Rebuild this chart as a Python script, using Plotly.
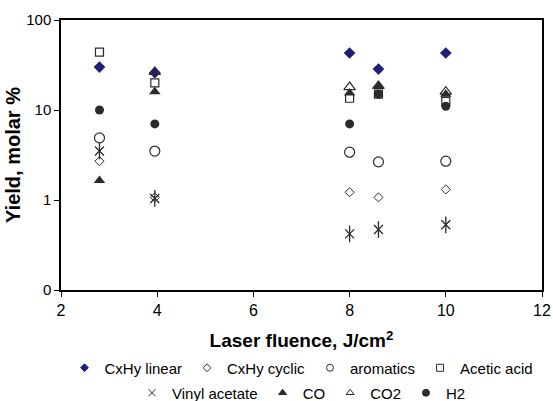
import plotly.graph_objects as go

# ---- data ----
fluence = [2.8, 3.95, 8, 8.6, 10]
cxhy_linear = [30, 26, 43, 28.5, 43]
cxhy_cyclic = [2.7, 1.07, 1.22, 1.07, 1.31]
aromatics = [4.9, 3.5, 3.4, 2.65, 2.7]
acetic_acid = [44, 20, 13.5, 15, 12.5]
vinyl_acetate = [3.5, 1.04, 0.42, 0.47, 0.53]
co = [1.65, 16, 15.4, 18.5, 15]
co2 = [None, 26.5, 18, 18.5, 16]
h2 = [10, 7, 7, 15, 11]

y_tickvals = [0.1, 1, 10, 100]
y_ticktext = ["0", "1", "10", "100"]
x_tickvals = [2, 4, 6, 8, 10, 12]

FONT = "Arial, 'Liberation Sans', sans-serif"
DARK = "#2b2b2b"
NAVY = "#1f1f78"

fig = go.Figure()

def add(name, ys, symbol, size, color, lw, legend, lsize, legend_entry=True):
    # data trace
    fig.add_trace(go.Scatter(
        x=fluence, y=ys, mode="markers", name=name, showlegend=False,
        legendgroup=name,
        marker=dict(symbol=symbol, size=size, color=color,
                    line=dict(color=color, width=lw)),
    ))
    if legend_entry:
        # legend-only entry with the smaller legend symbol
        fig.add_trace(go.Scatter(
            x=[None], y=[None], mode="markers", name=name, legend=legend,
            legendgroup=name,
            marker=dict(symbol=symbol, size=lsize, color=color,
                        line=dict(color=color, width=1)),
        ))

add("CxHy linear", cxhy_linear, "diamond", 9, NAVY, 0, "legend", 6)
add("CxHy cyclic", cxhy_cyclic, "diamond-open", 7, DARK, 1, "legend", 6)
add("aromatics", aromatics, "circle-open", 10, DARK, 1.2, "legend", 7)
add("Acetic acid", acetic_acid, "square-open", 8, DARK, 1.2, "legend", 7)
add("Vinyl acetate", vinyl_acetate, "x-thin-open", 9, DARK, 1.3, "legend2", 7)
add("Vinyl acetate", vinyl_acetate, "line-ns-open", 12, DARK, 1.3, "legend2", 7, legend_entry=False)
add("CO", co, "triangle-up", 10, DARK, 0, "legend2", 7)
add("CO2", co2, "triangle-up-open", 10, DARK, 1.2, "legend2", 7)
add("H2", h2, "circle", 9, DARK, 0, "legend2", 7)

fig.update_layout(
    width=553, height=401,
    margin=dict(l=61, r=11, t=20, b=111),
    paper_bgcolor="white", plot_bgcolor="white",
    font=dict(family=FONT, size=15, color="black"),
    xaxis=dict(
        range=[2, 12], tickvals=x_tickvals, showgrid=False, zeroline=False,
        showline=True, linecolor="black", linewidth=1.5, mirror=True,
        ticks="outside", ticklen=5, tickcolor="black", tickwidth=1.2,
        tickfont=dict(size=16), automargin=False,
        title=dict(text="<b>Laser fluence, J/cm<sup>2</sup></b>",
                   font=dict(size=19), standoff=18),
    ),
    yaxis=dict(
        type="log", range=[-1, 2], tickvals=y_tickvals, ticktext=y_ticktext,
        showgrid=False, zeroline=False,
        showline=True, linecolor="black", linewidth=1.5, mirror=True,
        ticks="outside", ticklen=5, tickcolor="black", tickwidth=1.2,
        tickfont=dict(size=15), automargin=False,
        title=dict(text="<b>Yield, molar %</b>", font=dict(size=20), standoff=0),
    ),
    legend=dict(orientation="h", x=0.5, xanchor="center",
                yref="container", y=1 - 368 / 401, yanchor="middle",
                font=dict(size=15), bgcolor="rgba(0,0,0,0)", itemsizing="trace"),
    legend2=dict(orientation="h", x=0.5, xanchor="center",
                 yref="container", y=1 - 393 / 401, yanchor="middle",
                 font=dict(size=15), bgcolor="rgba(0,0,0,0)", itemsizing="trace"),
)

fig.write_html("out.html", config={"displayModeBar": False},
               post_script="document.body.style.margin='0';")
